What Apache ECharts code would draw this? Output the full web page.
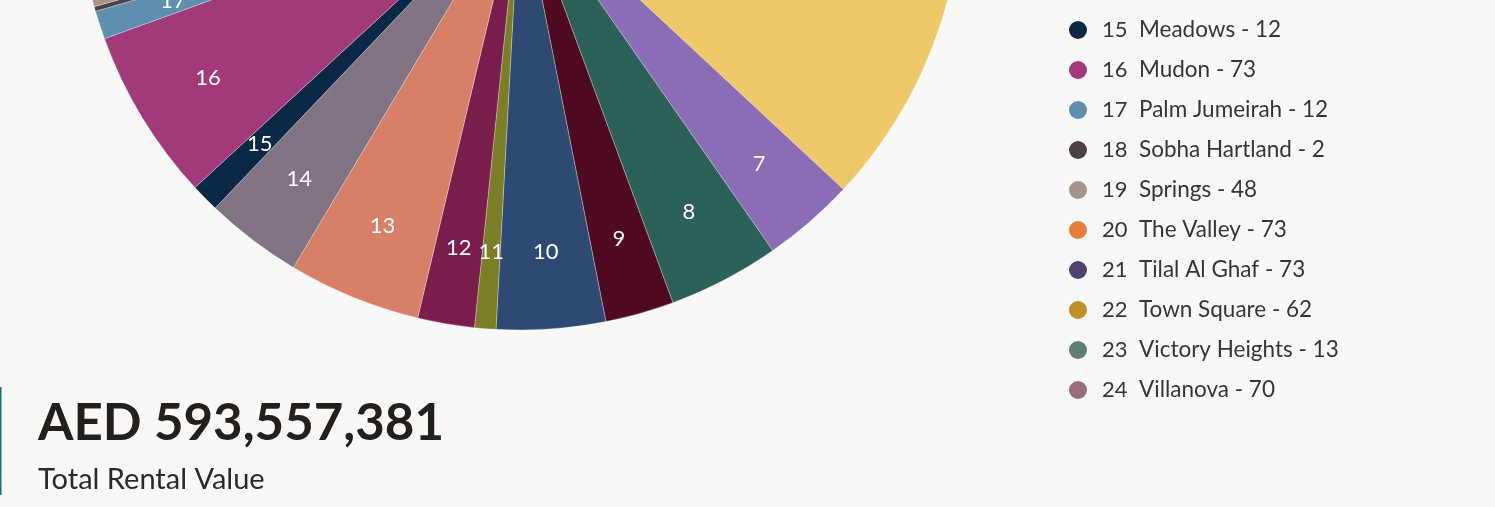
<!DOCTYPE html>
<html>
<head>
<meta charset="utf-8">
<script src="https://cdn.jsdelivr.net/npm/echarts@6/dist/echarts.min.js"></script>
<style>
  html, body { margin: 0; padding: 0; background: #F9F8F6; }
  #chart { width: 1495px; height: 507px; }
</style>
</head>
<body>
<div id="chart"></div>
<script>
// ---- data ----
const communities = [
  "Al Barari", "Al Furjan", "Arabian Ranches", "Arabian Ranches 2", "Arabian Ranches 3",
  "Damac Hills", "Damac Hills 2", "Dubai Hills Estate", "Emirates Hills", "Jumeirah Golf Estates",
  "Jumeirah Islands", "Jumeirah Park", "Jumeirah Village Circle", "Jumeirah Village Triangle",
  "Meadows", "Mudon", "Palm Jumeirah", "Sobha Hartland", "Springs",
  "The Valley", "Tilal Al Ghaf", "Town Square", "Victory Heights", "Villanova"
];
const counts = [
  30, 62, 48, 40, 57,
  190, 39, 47, 29, 46,
  9, 24, 56, 41,
  12, 73, 12, 2, 48,
  73, 73, 62, 13, 70
];
const sliceColors = [
  "#3F6E8C", "#B5656B", "#6B8E4E", "#C9A35A", "#4D6A8F",
  "#EFC86A", "#8A6DB5", "#2B6158", "#4F0A21", "#2E4A73",
  "#7A7E26", "#7A1F4D", "#D77F67", "#807382",
  "#0B2947", "#A23A7A", "#5E8FAE", "#503F47", "#A69488",
  "#E57E3C", "#524273", "#C08F26", "#5E7E78", "#9A6B7A"
];
const legendFirstIndex = 14; // legend list is scrolled: items 15..24 visible
const totalValueText = "AED 593,557,381";
const totalValueCaption = "Total Rental Value";

// ---- chart ----
const FONT = "Lato";
const chart = echarts.init(document.getElementById('chart'), null, { renderer: 'canvas' });

const pieData = communities.map((n, i) => ({ name: n, value: counts[i], itemStyle: { color: sliceColors[i] } }));
const labelData = communities.map((n, i) => ({ name: n, value: counts[i] }));

chart.setOption({
  backgroundColor: '#F9F8F6',
  animation: false,
  legend: {
    orient: 'vertical',
    left: 1064,
    top: 13,
    icon: 'circle',
    itemWidth: 18,
    itemHeight: 18,
    itemGap: 16,
    selectedMode: false,
    data: communities.slice(legendFirstIndex).map((n, k) => ({
      name: n, itemStyle: { color: sliceColors[legendFirstIndex + k], borderWidth: 0 }
    })),
    formatter: function (name) {
      const i = communities.indexOf(name);
      return '{n|' + (i + 1) + '}{t|' + name + ' - ' + counts[i] + '}';
    },
    textStyle: {
      fontFamily: FONT,
      fontSize: 22,
      lineHeight: 24,
      color: '#363636',
      rich: {
        n: { fontFamily: FONT, fontSize: 22, lineHeight: 24, color: '#363636', width: 37, padding: [0, 0, 0, 10] },
        t: { fontFamily: FONT, fontSize: 22.5, lineHeight: 24, color: '#363636' }
      }
    }
  },
  graphic: [
    { type: 'rect', left: 0, top: 387, shape: { width: 1.5, height: 108 }, style: { fill: '#127370' } },
    { type: 'text', left: 38, top: 398, style: { text: totalValueText, fontFamily: FONT, fontWeight: 'bold', fontSize: 51, fill: '#231F1C' } },
    { type: 'text', left: 38, top: 465, style: { text: totalValueCaption, fontFamily: FONT, fontSize: 29, fill: '#2A2A2A' } }
  ],
  series: [
    {
      type: 'pie',
      center: [520, -112],
      radius: 442,
      startAngle: 90,
      clockwise: true,
      silent: true,
      label: { show: false },
      labelLine: { show: false },
      itemStyle: { borderColor: 'rgba(255,255,255,0.6)', borderWidth: 0.5 },
      data: pieData
    },
    {
      type: 'pie',
      center: [520, -112],
      radius: [282, 442],
      startAngle: 90,
      clockwise: true,
      silent: true,
      legendHoverLink: false,
      itemStyle: { color: 'rgba(0,0,0,0)' },
      label: {
        show: true,
        position: 'inside',
        color: '#FFFFFF',
        fontFamily: FONT,
        fontSize: 22,
        formatter: function (p) { return String(p.dataIndex + 1); }
      },
      labelLine: { show: false },
      data: labelData
    }
  ]
});
</script>
</body>
</html>
